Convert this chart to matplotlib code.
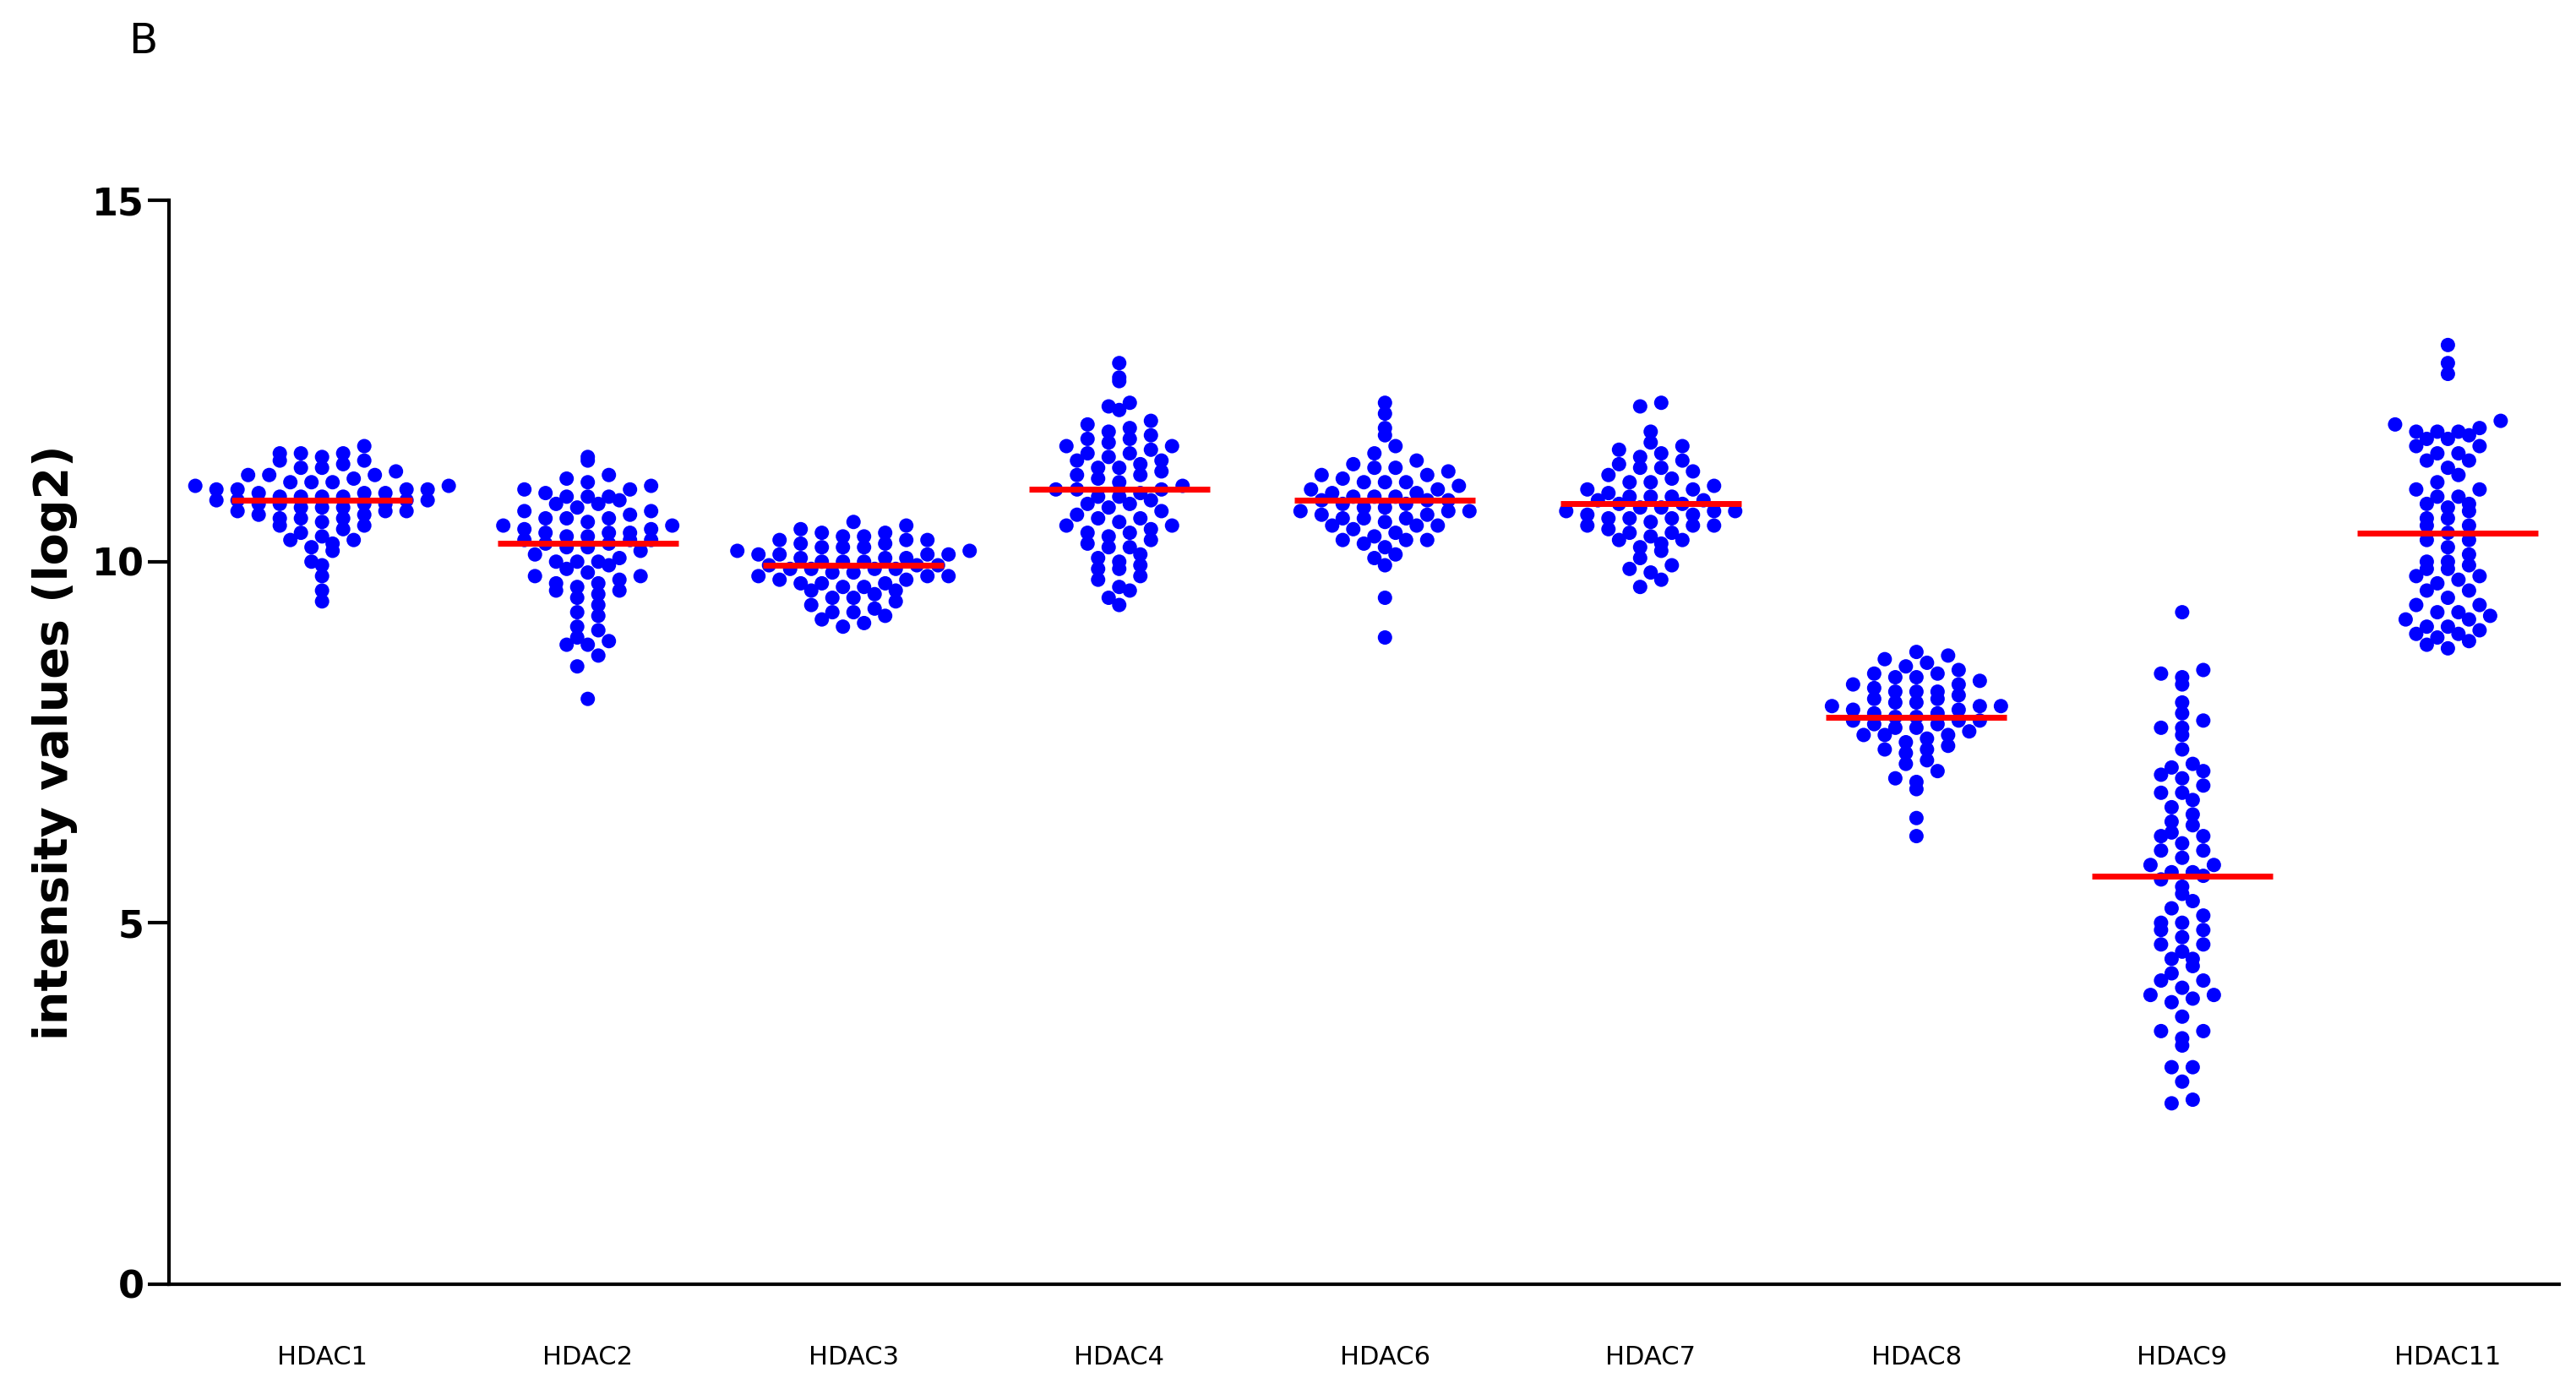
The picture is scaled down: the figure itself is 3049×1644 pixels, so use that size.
import numpy as np
import matplotlib
matplotlib.use("Agg")
import matplotlib.pyplot as plt

categories = ["HDAC1","HDAC2","HDAC3","HDAC4","HDAC6","HDAC7","HDAC8","HDAC9","HDAC11"]
hdac1 = [11.6,11.5,11.5,11.5,11.45,11.4,11.4,11.35,11.3,11.3,11.25,11.2,11.2,11.2,11.15,11.1,11.1,11.1,11.05,11.05,11.0,11.0,11.0,11.0,10.95,10.95,10.95,10.9,10.9,10.9,10.9,10.85,10.85,10.85,10.85,10.8,10.8,10.8,10.8,10.75,10.75,10.75,10.7,10.7,10.7,10.65,10.65,10.6,10.6,10.6,10.55,10.5,10.5,10.45,10.4,10.35,10.3,10.3,10.25,10.2,10.15,10.0,9.95,9.8,9.6,9.45]
hdac2 = [11.45,11.4,11.2,11.15,11.1,11.05,11.0,11.0,10.95,10.9,10.9,10.85,10.8,10.8,10.75,10.7,10.65,10.6,10.6,10.55,10.5,10.5,10.45,10.45,10.4,10.4,10.35,10.35,10.3,10.3,10.25,10.25,10.2,10.2,10.15,10.1,10.05,10.0,10.0,9.95,9.9,9.85,9.8,9.75,9.7,9.7,9.65,9.6,9.55,9.5,9.4,9.3,9.25,9.1,9.05,8.95,8.9,8.85,8.85,8.7,8.55,8.1,10.6,10.4,10.0,9.8,9.6,10.9,10.7,10.3]
hdac3 = [10.55,10.5,10.45,10.4,10.4,10.35,10.35,10.3,10.3,10.25,10.25,10.2,10.2,10.2,10.15,10.15,10.1,10.1,10.1,10.05,10.05,10.05,10.0,10.0,10.0,9.95,9.95,9.95,9.9,9.9,9.9,9.85,9.85,9.8,9.8,9.8,9.75,9.75,9.7,9.7,9.65,9.65,9.6,9.6,9.55,9.5,9.45,9.4,9.35,9.3,9.25,9.2,9.15,9.1,10.3,10.1,9.9,9.7,9.5,9.3]
hdac4 = [12.75,12.55,12.5,12.2,12.15,12.1,11.95,11.9,11.85,11.8,11.75,11.7,11.65,11.6,11.55,11.5,11.5,11.45,11.4,11.35,11.3,11.25,11.2,11.15,11.1,11.05,11.0,11.0,10.95,10.9,10.85,10.8,10.75,10.7,10.65,10.6,10.55,10.5,10.45,10.4,10.35,10.3,10.25,10.2,10.1,10.05,10.0,9.95,9.9,9.8,9.75,9.65,9.6,9.5,9.4,11.6,11.4,11.2,11.0,10.8,10.6,10.4,10.2,9.9,11.7,11.3,10.9,10.5]
hdac6 = [12.2,12.05,11.85,11.75,11.6,11.5,11.4,11.35,11.3,11.25,11.2,11.15,11.1,11.1,11.05,11.0,11.0,10.95,10.95,10.9,10.9,10.85,10.85,10.85,10.8,10.8,10.75,10.75,10.7,10.7,10.65,10.65,10.6,10.6,10.55,10.5,10.5,10.45,10.4,10.35,10.3,10.3,10.25,10.2,10.1,10.05,9.95,9.5,8.95,11.3,11.1,10.9,10.7,10.5,10.3,11.2,10.6]
hdac7 = [12.2,12.15,11.8,11.65,11.6,11.55,11.5,11.45,11.4,11.35,11.3,11.25,11.2,11.15,11.1,11.05,11.0,11.0,10.95,10.9,10.9,10.85,10.85,10.8,10.8,10.75,10.75,10.7,10.7,10.65,10.65,10.6,10.6,10.55,10.5,10.5,10.45,10.4,10.4,10.35,10.3,10.25,10.2,10.15,10.05,9.95,9.9,9.85,9.75,9.65,11.3,11.1,10.9,10.7,10.5,10.3,10.6]
hdac8 = [8.75,8.7,8.65,8.6,8.55,8.5,8.45,8.45,8.4,8.35,8.3,8.3,8.25,8.2,8.2,8.15,8.1,8.1,8.05,8.05,8.0,8.0,7.95,7.95,7.9,7.9,7.85,7.85,7.8,7.8,7.75,7.75,7.7,7.65,7.6,7.6,7.55,7.5,7.45,7.4,7.35,7.25,7.2,7.1,7.0,6.95,6.85,6.45,6.2,8.4,8.2,8.0,7.8,7.6,7.4,7.7]
hdac9 = [9.3,8.5,8.45,8.3,8.05,7.9,7.8,7.7,7.6,7.4,7.2,7.15,7.05,6.9,6.8,6.7,6.6,6.5,6.35,6.25,6.2,6.1,6.0,5.9,5.8,5.7,5.65,5.6,5.5,5.4,5.2,5.1,5.0,4.9,4.8,4.7,4.6,4.5,4.4,4.3,4.2,4.1,4.0,3.95,3.9,3.7,3.5,3.4,3.3,3.0,2.8,2.55,2.5,8.4,7.7,7.1,6.8,6.2,6.0,5.7,5.3,5.0,4.7,4.5,4.0,3.5,3.0,7.0,6.4,5.8,4.9,4.2]
hdac11 = [13.0,12.75,12.6,11.95,11.9,11.85,11.8,11.75,11.7,11.6,11.5,11.4,11.3,11.2,11.1,11.0,10.9,10.8,10.75,10.7,10.6,10.5,10.4,10.3,10.2,10.1,10.0,9.95,9.9,9.8,9.75,9.7,9.6,9.5,9.4,9.3,9.25,9.2,9.1,9.05,9.0,8.95,8.9,8.85,8.8,11.8,11.7,11.6,11.4,11.0,10.8,10.6,10.3,10.0,9.8,9.6,9.3,9.2,9.0,11.8,11.5,10.9,10.5,9.9,9.4,9.1]
medians = [10.85,10.25,9.95,11.0,10.85,10.8,7.85,5.65,10.4]
groups = [hdac1,hdac2,hdac3,hdac4,hdac6,hdac7,hdac8,hdac9,hdac11]

fig = plt.figure(figsize=(30.49,16.44), dpi=100)
ax = fig.add_axes([0.0657,0.0757,0.9279,0.7799])
ax.set_xlim(-0.575,8.42)
ax.set_ylim(0,15)

xpx = 0.9279*3049/8.995   # pixels per x unit
step = 25.0 / xpx          # horizontal spacing between dots
binw = 0.18

def binned(vals):
    xs, ys = [], []
    b = np.round(np.asarray(vals)/binw).astype(int)
    for k in np.unique(b):
        v = np.sort(np.asarray(vals)[b == k])
        n = len(v)
        offs = (np.arange(n) - (n-1)/2.0) * step
        order = np.argsort(np.abs(offs), kind="stable")
        for j, idx in enumerate(order):
            xs.append(offs[idx]); ys.append(v[j])
    return xs, ys

for i, vals in enumerate(groups):
    xs, ys = binned(vals)
    ax.scatter([i+x for x in xs], ys, s=150, color="#0000ff", edgecolors="none", zorder=2)
    ax.plot([i-0.34, i+0.34], [medians[i]]*2, color="#ff0000", lw=5, zorder=3, solid_capstyle="butt")

for s in ["top","right"]:
    ax.spines[s].set_visible(False)
for s in ["left","bottom"]:
    ax.spines[s].set_linewidth(3)
ax.set_yticks([0,5,10,15])
ax.set_yticklabels(["0","5","10","15"], fontsize=32, fontweight="bold")
ax.tick_params(axis="y", length=18, width=3)
ax.set_xticks(range(9))
ax.set_xticklabels(categories, fontsize=22)
ax.tick_params(axis="x", length=0, pad=52)
ax.set_ylabel("intensity values (log2)", fontsize=40, fontweight="bold", labelpad=12)
fig.text(0.05, 0.97, "B", fontsize=36, va="center")
fig.savefig("out.png", dpi=100)
